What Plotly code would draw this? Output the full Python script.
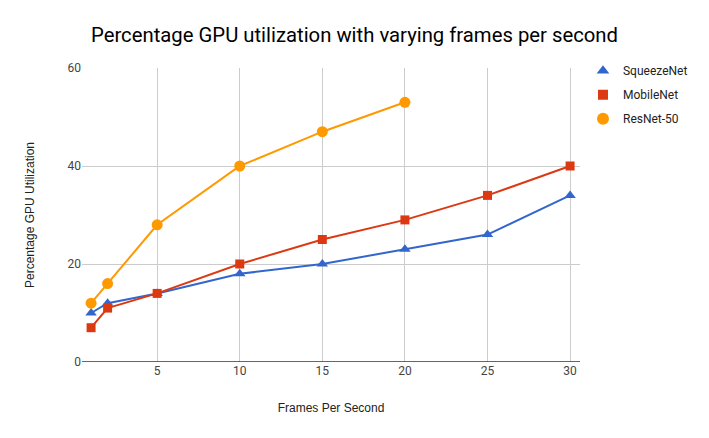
import plotly.graph_objects as go

fps_squeeze = [1, 2, 5, 10, 15, 20, 25, 30]
squeezenet = [10, 12, 14, 18, 20, 23, 26, 34]
fps_mobile = [1, 2, 5, 10, 15, 20, 25, 30]
mobilenet = [7, 11, 14, 20, 25, 29, 34, 40]
fps_resnet = [1, 2, 5, 10, 15, 20]
resnet50 = [12, 16, 28, 40, 47, 53]
x_ticks = [5, 10, 15, 20, 25, 30]
y_ticks = [0, 20, 40, 60]

series = [
    ("SqueezeNet", fps_squeeze, squeezenet, "#3366cc", "triangle-up", 10),
    ("MobileNet", fps_mobile, mobilenet, "#dc3912", "square", 9),
    ("ResNet-50", fps_resnet, resnet50, "#ff9900", "circle", 11),
]

fig = go.Figure()
for i, (name, xs, ys, color, sym, size) in enumerate(series):
    fig.add_trace(go.Scatter(x=xs, y=ys, name=name, mode="lines+markers",
                             line=dict(color=color, width=2),
                             marker=dict(symbol=sym, size=size, color=color),
                             showlegend=False))
for i, (name, xs, ys, color, sym, size) in enumerate(series):
    fig.add_trace(go.Scatter(x=[None], y=[None], name=name, mode="markers",
                             marker=dict(symbol=sym, size=size + 1, color=color),
                             legendgroup="g%d" % i, showlegend=True))

fig.update_layout(
    width=709, height=438,
    paper_bgcolor="white", plot_bgcolor="white",
    margin=dict(l=82, r=129, t=68, b=76),
    font=dict(family="Roboto", size=12, color="#222"),
    title=dict(text="Percentage GPU utilization with varying frames per second",
               x=0.5, xanchor="center", y=0.92, yanchor="middle",
               font=dict(family="Roboto", size=20.3, color="#000")),
    xaxis=dict(range=[0.45, 30.6], tickvals=x_ticks, showgrid=True, gridcolor="#cccccc",
               zeroline=False, showline=False, ticks="", automargin=False,
               title=dict(text="Frames Per Second", font=dict(family="Liberation Sans", size=12, color="#222"), standoff=26),
               tickfont=dict(family="Roboto", size=12, color="#444")),
    yaxis=dict(range=[0, 60], tickvals=y_ticks, showgrid=True, gridcolor="#cccccc",
               zeroline=False, showline=False, ticks="", automargin=False,
               title=dict(text="Percentage GPU Utilization", font=dict(family="Liberation Sans", size=12, color="#222"), standoff=30),
               tickfont=dict(family="Roboto", size=12, color="#444")),
    legend=dict(x=1.006, y=1.04, xanchor="left", yanchor="top", tracegroupgap=5,
                itemwidth=30,
                font=dict(family="Roboto", size=12, color="#222"), bgcolor="rgba(0,0,0,0)"),
    shapes=[dict(type="line", xref="paper", yref="y", x0=0, x1=1, y0=0, y1=0,
                 line=dict(color="#333333", width=1.5))],
)

fig.write_html("out.html", config={"displayModeBar": False},
               post_script="document.body.style.margin='0';document.body.style.overflow='hidden';")
